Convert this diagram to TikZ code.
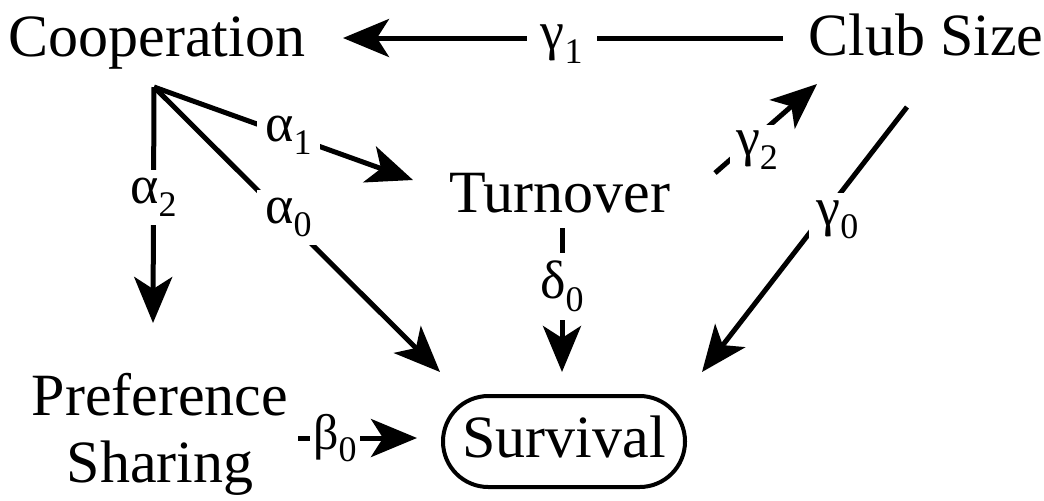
\documentclass[tikz,border=0pt]{standalone}
\usepackage{fontspec}
\setmainfont{Liberation Serif}
\usetikzlibrary{arrows.meta}
\newcommand\lbl[2]{#1\raisebox{-0.25em}{\fontsize{18}{18}\selectfont #2}}
\begin{document}
\begin{tikzpicture}[x=0.5pt,y=-0.5pt,
  txt/.style={font=\fontsize{30}{33.5}\selectfont, inner sep=0pt},
  lab/.style={font=\fontsize{27}{30}\selectfont, fill=white, inner sep=4pt},
  link/.style={line width=2.5pt},
  arr/.style={link, -{Stealth[length=23pt,width=19pt,inset=6pt]}},
  survbox/.style={txt, draw, line width=2pt, minimum width=121pt, minimum height=45.5pt,
    rounded corners=22.7pt, text depth=5pt}
]
\useasboundingbox (0,0) rectangle (1044,500);
% main nodes
\node[txt, anchor=base] (coop) at (157,56) {Cooperation};
\node[txt, anchor=base] (club) at (926,55) {Club Size};
\node[txt, anchor=base] (turn) at (560,212) {Turnover};
\node[txt, align=center] (pref) at (160,434) {Preference\\Sharing};
\node[survbox] (surv) at (564,441.5) {Survival};
% connector end points
\coordinate (clubS) at (783,38);
\coordinate (coopT) at (343,38);
\coordinate (j) at (154,87);
\coordinate (prefT) at (153,323);
\coordinate (turnT) at (413,180);
\coordinate (survA) at (440,372);
\coordinate (turnS) at (715,173);
\coordinate (clubT) at (817,84);
\coordinate (clubD) at (907,107);
\coordinate (survG) at (702,372);
\coordinate (turnD) at (562,228);
\coordinate (survD) at (562,372);
\coordinate (prefS) at (298,438);
\coordinate (survB) at (417,438);
% connectors
\draw[arr] (clubS) -- node[lab, pos=0.503, yshift=-3pt, inner xsep=7pt] (g1) {\lbl{γ}{1}} (coopT);
\draw[arr] (j) -- node[lab, pos=0.445, yshift=-2.5pt] (a2) {\lbl{α}{2}} (prefT);
\draw[arr] (j) -- node[lab, pos=0.519] (a1) {\lbl{α}{1}} (turnT);
\draw[arr] (j) -- node[lab, pos=0.470, yshift=1.75pt] (a0) {\lbl{α}{0}} (survA);
\draw[arr] (turnS) -- node[lab, pos=0.368, xshift=2.25pt, yshift=-5pt, inner sep=3pt] (g2) {\lbl{γ}{2}} (clubT);
\draw[arr] (clubD) -- node[lab, pos=0.388, xshift=5pt, yshift=-5pt] (g0) {\lbl{γ}{0}} (survG);
\draw[arr] (turnD) -- node[lab, pos=0.337, yshift=-5pt] (d0) {\lbl{δ}{0}} (survD);
\draw[arr] (prefS) -- node[lab, pos=0.311, inner sep=1.5pt, font=\fontsize{25}{28}\selectfont] (b0) {\lbl{β}{0}} (survB);
\end{tikzpicture}
\end{document}
